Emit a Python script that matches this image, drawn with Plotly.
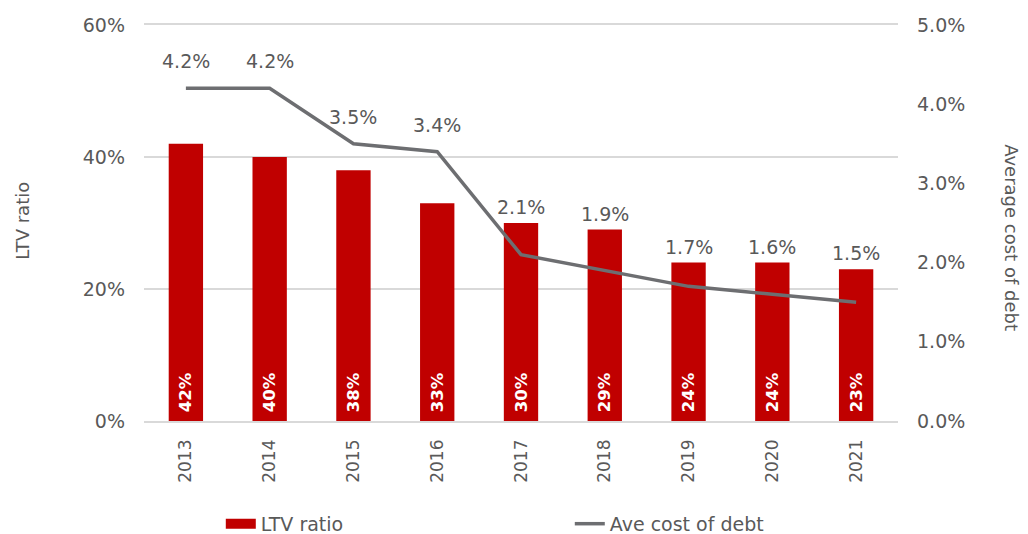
import plotly.graph_objects as go

years = ["2013", "2014", "2015", "2016", "2017", "2018", "2019", "2020", "2021"]
ltv_ratio = [42, 40, 38, 33, 30, 29, 24, 24, 23]
ave_cost_of_debt = [4.2, 4.2, 3.5, 3.4, 2.1, 1.9, 1.7, 1.6, 1.5]
left_ticks = [0, 20, 40, 60]
right_ticks = [0, 1, 2, 3, 4, 5]

FONT = "DejaVu Sans"
GREY = "#595959"
RED = "#c00000"
LINE_GREY = "#6d6e71"

L_MAX, R_MAX = 60, 5
PLOT_H = 396  # px height of plot area
PX = R_MAX / PLOT_H  # y2 units per pixel

fig = go.Figure()
fig.add_trace(go.Bar(
    x=years, y=ltv_ratio, name="LTV ratio", showlegend=False,
    marker=dict(color=RED, line=dict(width=0)),
    width=0.41,
    text=["\u00a0" + f"{v}%" for v in ltv_ratio],
    textposition="inside", insidetextanchor="start", textangle=-90,
    textfont=dict(color="white", size=16.5, family=FONT, weight="bold"),
    yaxis="y",
))
# legend-only entry giving the bar series a wide rectangular swatch
fig.add_trace(go.Scatter(
    x=[None], y=[None], name="LTV ratio", mode="lines",
    line=dict(color=RED, width=13), yaxis="y",
))
fig.add_trace(go.Scatter(
    x=years, y=ave_cost_of_debt, name="Ave cost of debt",
    mode="lines", line=dict(color=LINE_GREY, width=3.5),
    yaxis="y2",
))
# line data labels: above the point, or above the bar top if the bar is higher
for i, (yv, bv) in enumerate(zip(ave_cost_of_debt, ltv_ratio)):
    ypos = max(yv + 27 * PX, bv * R_MAX / L_MAX + 16 * PX)
    fig.add_annotation(x=i, y=ypos, xref="x", yref="y2", text=f"{yv:.1f}%",
                       showarrow=False, yanchor="middle",
                       font=dict(size=19, color=GREY, family=FONT))

fig.add_annotation(x=-0.162, y=0.505, xref="paper", yref="paper", text="LTV ratio",
                   xanchor="center", yanchor="middle",
                   showarrow=False, textangle=-90, font=dict(size=18, color=GREY, family=FONT))
fig.add_annotation(x=1.151, y=0.462, xref="paper", yref="paper", text="Average cost of debt",
                   xanchor="center", yanchor="middle",
                   showarrow=False, textangle=90, font=dict(size=18, color=GREY, family=FONT))

fig.update_layout(
    width=1028, height=534,
    margin=dict(l=136, r=138, t=17, b=121, autoexpand=False),
    paper_bgcolor="white", plot_bgcolor="white",
    font=dict(family=FONT, color=GREY, size=18),
    showlegend=True,
    legend=dict(orientation="h", xref="container", yref="container",
                x=0.207, y=0.034, xanchor="left", yanchor="middle",
                entrywidth=304, entrywidthmode="pixels",
                font=dict(size=19, color=GREY, family=FONT)),
    xaxis=dict(type="category", categoryorder="array", categoryarray=years,
               tickangle=-90, showgrid=False, zeroline=False, automargin=False,
               showline=True, mirror=True, linecolor="#d9d9d9", linewidth=1.5,
               tickfont=dict(size=17, color=GREY, family=FONT), ticks="",
               ticklabelstandoff=10),
    yaxis=dict(range=[0, L_MAX], tickvals=left_ticks, ticktext=[f"{v}%" for v in left_ticks],
               showgrid=True, gridcolor="#d9d9d9", gridwidth=1.5, zeroline=False, automargin=False,
               tickfont=dict(size=19, color=GREY, family=FONT), ticks="", ticklabelstandoff=18),
    yaxis2=dict(range=[0, R_MAX], tickvals=right_ticks, ticktext=[f"{v:.1f}%" for v in right_ticks],
                overlaying="y", side="right", showgrid=False, zeroline=False, automargin=False,
                tickfont=dict(size=19, color=GREY, family=FONT), ticks="", ticklabelstandoff=18),
)

fig.write_html("out.html")
